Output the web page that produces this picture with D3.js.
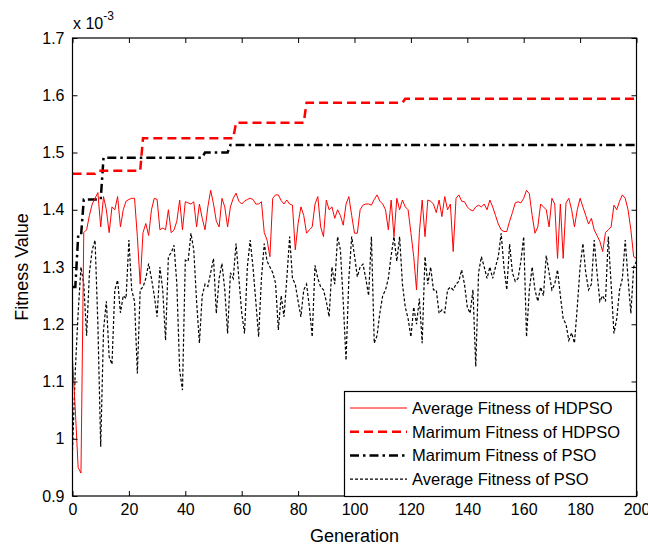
<!DOCTYPE html>
<html>
<head>
<meta charset="utf-8">
<script src="https://cdn.jsdelivr.net/npm/d3@7"></script>
<style>
  body { margin: 0; background: #fff; }
  svg { display: block; }
  text { font-family: Arial, "Liberation Sans", sans-serif; fill: #000; }
</style>
</head>
<body>
<div id="chart"></div>
<script>
// generations 0..200, values in units of 1e-3
const avgHdpso = [
  1.14, 1.05, 0.95, 0.94, 1.36, 1.365, 1.39, 1.41, 1.42, 1.43,
  1.37, 1.423, 1.40, 1.36, 1.405, 1.40, 1.423, 1.37, 1.40, 1.415,
  1.418, 1.42, 1.42, 1.353, 1.27, 1.36, 1.376, 1.355, 1.40, 1.42,
  1.418, 1.365, 1.368, 1.365, 1.40, 1.36, 1.365, 1.38, 1.417, 1.365,
  1.414, 1.412, 1.41, 1.414, 1.37, 1.41, 1.385, 1.365, 1.405, 1.434,
  1.41, 1.38, 1.37, 1.42, 1.405, 1.37, 1.405, 1.42, 1.429, 1.415,
  1.41, 1.415, 1.418, 1.42, 1.418, 1.41, 1.41, 1.414, 1.36, 1.347,
  1.318, 1.42, 1.426, 1.426, 1.416, 1.41, 1.417, 1.41, 1.408, 1.33,
  1.376, 1.405, 1.39, 1.359, 1.365, 1.37, 1.41, 1.423, 1.37, 1.353,
  1.417, 1.40, 1.405, 1.385, 1.40, 1.39, 1.373, 1.41, 1.423, 1.39,
  1.359, 1.359, 1.40, 1.408, 1.41, 1.41, 1.408, 1.418, 1.426, 1.415,
  1.41, 1.40, 1.365, 1.417, 1.353, 1.42, 1.40, 1.417, 1.405, 1.40,
  1.36, 1.318, 1.26, 1.36, 1.417, 1.353, 1.417, 1.415, 1.41, 1.395,
  1.417, 1.388, 1.423, 1.40, 1.41, 1.327, 1.42, 1.426, 1.415, 1.414,
  1.405, 1.40, 1.398, 1.405, 1.408, 1.405, 1.41, 1.40, 1.417, 1.405,
  1.39, 1.375, 1.365, 1.362, 1.362, 1.38, 1.395, 1.412, 1.414, 1.412,
  1.42, 1.434, 1.428, 1.39, 1.359, 1.37, 1.41, 1.405, 1.40, 1.37,
  1.42, 1.41, 1.315, 1.41, 1.315, 1.412, 1.42, 1.40, 1.37, 1.40,
  1.42, 1.405, 1.39, 1.375, 1.385, 1.365, 1.355, 1.345, 1.327, 1.36,
  1.365, 1.37, 1.408, 1.40, 1.415, 1.426, 1.42, 1.40, 1.365, 1.318,
  1.315
];

const avgPso = [
  0.98, 1.12, 1.22, 1.30, 1.27, 1.18, 1.29, 1.33, 1.347, 1.20,
  0.986, 1.19, 1.24, 1.143, 1.13, 1.26, 1.277, 1.22, 1.25, 1.245,
  1.347, 1.26, 1.24, 1.114, 1.26, 1.265, 1.28, 1.306, 1.28, 1.25,
  1.213, 1.30, 1.26, 1.172, 1.318, 1.325, 1.338, 1.27, 1.12, 1.085,
  1.312, 1.31, 1.359, 1.33, 1.24, 1.167, 1.25, 1.27, 1.266, 1.29,
  1.315, 1.219, 1.28, 1.306, 1.26, 1.184, 1.29, 1.28, 1.341, 1.28,
  1.22, 1.184, 1.30, 1.347, 1.30, 1.24, 1.178, 1.28, 1.341, 1.31,
  1.30, 1.29, 1.272, 1.19, 1.25, 1.213, 1.28, 1.353, 1.28, 1.27,
  1.24, 1.213, 1.26, 1.27, 1.23, 1.178, 1.303, 1.28, 1.265, 1.26,
  1.24, 1.213, 1.30, 1.27, 1.353, 1.33, 1.24, 1.137, 1.28, 1.353,
  1.32, 1.283, 1.30, 1.305, 1.28, 1.25, 1.353, 1.167, 1.18, 1.22,
  1.25, 1.26, 1.28, 1.32, 1.353, 1.31, 1.353, 1.27, 1.23, 1.21,
  1.178, 1.23, 1.20, 1.245, 1.167, 1.318, 1.27, 1.30, 1.26, 1.26,
  1.219, 1.225, 1.22, 1.26, 1.265, 1.26, 1.27, 1.275, 1.295, 1.27,
  1.23, 1.219, 1.26, 1.126, 1.29, 1.318, 1.30, 1.28, 1.30, 1.28,
  1.30, 1.318, 1.359, 1.30, 1.26, 1.34, 1.29, 1.275, 1.28, 1.31,
  1.353, 1.178, 1.26, 1.30, 1.26, 1.24, 1.265, 1.25, 1.32, 1.29,
  1.26, 1.27, 1.295, 1.25, 1.21, 1.20, 1.172, 1.185, 1.167, 1.23,
  1.30, 1.341, 1.29, 1.26, 1.27, 1.347, 1.29, 1.24, 1.25, 1.24,
  1.353, 1.27, 1.184, 1.21, 1.26, 1.28, 1.347, 1.28, 1.219, 1.30,
  1.31
];

// [generation, value] at each step of the best-so-far curves
const maxHdpso = [
  [0, 1.463], [8, 1.463], [9, 1.468], [24, 1.468], [25, 1.525], [57, 1.525],
  [58, 1.552], [82, 1.552], [83, 1.587], [117, 1.587], [118, 1.594], [200, 1.594]
];
const maxPso = [
  [0, 1.265], [1, 1.265], [2, 1.353], [3, 1.353], [4, 1.418], [10, 1.418],
  [11, 1.491], [46, 1.491], [47, 1.50], [55, 1.50], [56, 1.513], [200, 1.513]
];

const xTicks = [0, 20, 40, 60, 80, 100, 120, 140, 160, 180, 200];
const yTicks = [0.9, 1.0, 1.1, 1.2, 1.3, 1.4, 1.5, 1.6, 1.7];
const legendLabels = [
  'Average Fitness of HDPSO',
  'Marimum Fitness of HDPSO',
  'Marimum Fitness of PSO',
  'Average Fitness of PSO'
];

const width = 648;
const height = 548;
const pLeft = 72.5, pRight = 636.5, pTop = 38, pBottom = 496;

const svg = d3.select('#chart')
  .append('svg')
  .attr('width', width)
  .attr('height', height);

const x = d3.scaleLinear().domain([0, 200]).range([pLeft, pRight]);
const y = d3.scaleLinear().domain([0.9, 1.7]).range([pBottom, pTop]);

svg.append('defs').append('clipPath')
  .attr('id', 'plot-clip')
  .append('rect')
  .attr('x', pLeft).attr('y', pTop)
  .attr('width', pRight - pLeft).attr('height', pBottom - pTop);

// series
const styles = [
  { color: '#ff0000', w: 1, dash: null },
  { color: '#ff0000', w: 2.5, dash: '9,5' },
  { color: '#000000', w: 2.5, dash: '9,4,2.5,4' },
  { color: '#000000', w: 1.2, dash: '3,2' }
];

const lineIdx = d3.line()
  .x((d, i) => x(i))
  .y(d => y(d));
const linePts = d3.line()
  .x(d => x(d[0]))
  .y(d => y(d[1]));

const plot = svg.append('g').attr('clip-path', 'url(#plot-clip)');

plot.append('path')
  .attr('d', lineIdx(avgPso))
  .attr('fill', 'none')
  .attr('stroke', styles[3].color)
  .attr('stroke-width', styles[3].w)
  .attr('stroke-dasharray', styles[3].dash);

plot.append('path')
  .attr('d', linePts(maxPso))
  .attr('fill', 'none')
  .attr('stroke', styles[2].color)
  .attr('stroke-width', styles[2].w)
  .attr('stroke-dasharray', styles[2].dash);

plot.append('path')
  .attr('d', lineIdx(avgHdpso))
  .attr('fill', 'none')
  .attr('stroke', styles[0].color)
  .attr('stroke-width', styles[0].w);

plot.append('path')
  .attr('d', linePts(maxHdpso))
  .attr('fill', 'none')
  .attr('stroke', styles[1].color)
  .attr('stroke-width', styles[1].w)
  .attr('stroke-dasharray', styles[1].dash);

// axes, matlab style: inward ticks on all four sides
const fmt = d => d3.format('~g')(d);

const xAxis = svg.append('g')
  .attr('transform', `translate(0,${pBottom})`)
  .call(d3.axisBottom(x).tickValues(xTicks).tickSize(-5).tickPadding(8).tickFormat(fmt));
const xTop = svg.append('g')
  .attr('transform', `translate(0,${pTop})`)
  .call(d3.axisTop(x).tickValues(xTicks).tickSize(-5).tickFormat(''));
const yAxis = svg.append('g')
  .attr('transform', `translate(${pLeft},0)`)
  .call(d3.axisLeft(y).tickValues(yTicks).tickSize(-5).tickPadding(8).tickFormat(fmt));
const yRight = svg.append('g')
  .attr('transform', `translate(${pRight},0)`)
  .call(d3.axisRight(y).tickValues(yTicks).tickSize(-5).tickFormat(''));

[xAxis, xTop, yAxis, yRight].forEach(g => {
  g.select('.domain').remove();
  g.selectAll('line').attr('stroke', '#000');
  g.selectAll('text')
    .style('font-family', 'Arial, "Liberation Sans", sans-serif')
    .style('font-size', '16px')
    .attr('fill', '#000');
});

svg.append('rect')
  .attr('x', pLeft).attr('y', pTop)
  .attr('width', pRight - pLeft).attr('height', pBottom - pTop)
  .attr('fill', 'none')
  .attr('stroke', '#000')
  .attr('stroke-width', 1.2);

// exponent label
const expo = svg.append('text')
  .attr('x', 73)
  .attr('y', 29)
  .style('font-size', '16px');
expo.append('tspan').text('x 10');
expo.append('tspan').attr('dy', -9).style('font-size', '12px').text('-3');

// axis titles
svg.append('text')
  .attr('x', (pLeft + pRight) / 2)
  .attr('y', 542)
  .attr('text-anchor', 'middle')
  .style('font-size', '18px')
  .text('Generation');

svg.append('text')
  .attr('transform', `translate(28,${(pTop + pBottom) / 2}) rotate(-90)`)
  .attr('text-anchor', 'middle')
  .style('font-size', '18px')
  .text('Fitness Value');

// legend
const lg = svg.append('g');
lg.append('rect')
  .attr('x', 344.5).attr('y', 391.5)
  .attr('width', 292).attr('height', 105)
  .attr('fill', '#fff')
  .attr('stroke', '#000')
  .attr('stroke-width', 1.2);

legendLabels.forEach((label, i) => {
  const ly = 408 + i * 23.7;
  lg.append('line')
    .attr('x1', 350).attr('x2', 407)
    .attr('y1', ly).attr('y2', ly)
    .attr('stroke', styles[i].color)
    .attr('stroke-width', styles[i].w)
    .attr('stroke-dasharray', styles[i].dash);
  lg.append('text')
    .attr('x', 412)
    .attr('y', ly)
    .attr('dy', '0.36em')
    .style('font-size', '16.5px')
    .text(label);
});
</script>
</body>
</html>
